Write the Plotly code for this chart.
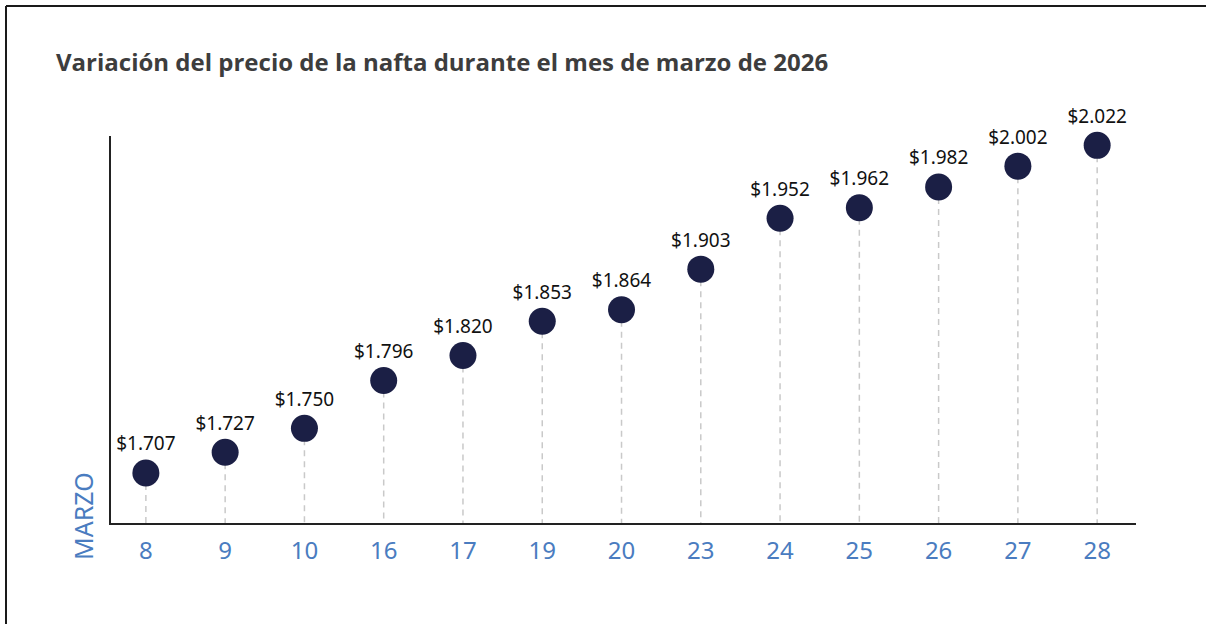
import plotly.graph_objects as go

days = ["8", "9", "10", "16", "17", "19", "20", "23", "24", "25", "26", "27", "28"]
prices = [1707, 1727, 1750, 1796, 1820, 1853, 1864, 1903, 1952, 1962, 1982, 2002, 2022]
price_labels = ["$1.707", "$1.727", "$1.750", "$1.796", "$1.820", "$1.853", "$1.864",
                "$1.903", "$1.952", "$1.962", "$1.982", "$2.002", "$2.022"]
title_text = "Variación del precio de la nafta durante el mes de marzo de 2026"
axis_label = "MARZO"

Y_MIN, Y_MAX = 1659, 2031

W, H = 1206, 624
ML, MR, MT, MB = 111, 70, 136, 101
pw, ph = W - ML - MR, H - MT - MB

def px_x(p):
    return (p - ML) / pw

def px_y(p):
    return (H - MB - p) / ph

# dashed stems
sx, sy = [], []
for d, v in zip(days, prices):
    sx += [d, d, None]
    sy += [v, Y_MIN, None]

fig = go.Figure()
fig.add_trace(go.Scatter(
    x=sx, y=sy, mode="lines",
    line=dict(color="#c9c9c9", width=1.5, dash="6px,5px"),
    hoverinfo="skip", showlegend=False))
fig.add_trace(go.Scatter(
    x=days, y=prices, mode="markers+text",
    marker=dict(size=27, color="#1b1f45"),
    text=price_labels, textposition="top center",
    textfont=dict(family="Noto Sans", size=19, color="#111111"),
    showlegend=False, cliponaxis=False))

fig.add_annotation(
    text=title_text, xref="paper", yref="paper",
    x=px_x(54), y=px_y(62), xanchor="left", yanchor="middle",
    showarrow=False,
    font=dict(family="Open Sans", size=24, color="#3d3d3d", weight="bold"))
fig.add_annotation(
    text=axis_label, xref="paper", yref="paper",
    x=px_x(83), y=px_y(516), xanchor="center", yanchor="middle",
    textangle=-90, showarrow=False,
    font=dict(family="Noto Sans", size=25, color="#4a7cc0"))

# frame
fig.add_shape(type="line", xref="paper", yref="paper",
              x0=px_x(6), x1=px_x(6), y0=px_y(6), y1=px_y(630),
              line=dict(color="#1a1a1a", width=2))
fig.add_shape(type="line", xref="paper", yref="paper",
              x0=px_x(6), x1=px_x(1210), y0=px_y(6), y1=px_y(6),
              line=dict(color="#1a1a1a", width=2))

fig.update_layout(
    width=W, height=H,
    margin=dict(l=ML, r=MR, t=MT, b=MB),
    paper_bgcolor="white", plot_bgcolor="white",
    xaxis=dict(type="category", range=[-0.44, 12.49], showgrid=False,
               showline=True, linecolor="#222222", linewidth=1.5,
               ticks="", zeroline=False, ticklabelstandoff=5,
               tickfont=dict(family="Noto Sans", size=24, color="#4a7cc0")),
    yaxis=dict(range=[Y_MIN, Y_MAX], showgrid=False, showline=True,
               linecolor="#222222", linewidth=1.5, showticklabels=False,
               ticks="", zeroline=False),
)

fig.write_html("out.html", config={"displayModeBar": False},
               post_script="document.body.style.margin='0';document.body.style.padding='0';")
